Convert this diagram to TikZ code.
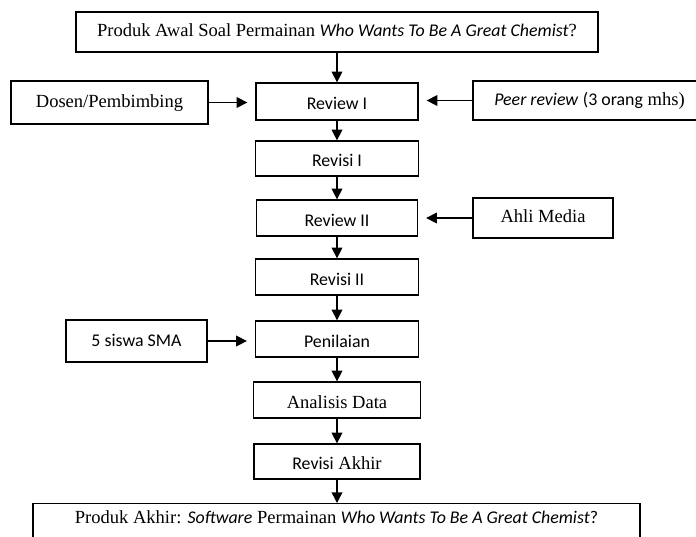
\documentclass[tikz,border=0pt]{standalone}
\usepackage{fontspec}
\setmainfont{Liberation Serif}
\newfontfamily\calibri{Carlito}
\usetikzlibrary{arrows.meta,positioning,shadows}

% Calibri pieces inside the Times labels
\newcommand{\cb}[1]{{\calibri\fontsize{13.4}{16}\selectfont #1}}
\newcommand{\cbi}[1]{{\calibri\itshape\fontsize{13.4}{16}\selectfont #1}}

\begin{document}
\begin{tikzpicture}[
  x=0.75pt, y=-0.75pt,
  font=\fontsize{13.9}{16}\selectfont,
  box/.style={draw, line width=1pt, rectangle, inner sep=0pt, align=center, fill=white,
    text height=9.5pt, text depth=2.5pt,
    drop shadow={shadow xshift=0.7pt, shadow yshift=-0.7pt, fill=black!55, opacity=0.7}},
  stepbox/.style={box, text height=14pt, text depth=1.5pt},
  arr/.style={-{Triangle[length=8pt,width=8pt]}, line width=1.1pt},
  side/.style={arr, shorten >=6pt}
]
\useasboundingbox (0,0) rectangle (696,536);

\node[box, minimum width=391.5pt, minimum height=30pt] (awal) at (337,32)
  {Produk Awal Soal Permainan \cbi{Who Wants To Be A Great Chemist}?};
\node[stepbox, minimum width=121.5pt, minimum height=27.75pt] (rev1) at (337,101.5) {\cb{Review I}};
\node[box, minimum width=147.75pt, minimum height=32.25pt] (dosen) at (109.5,102.5) {Dosen/Pembimbing};
\node[box, minimum width=174.75pt, minimum height=29.25pt] (peer) at (589.5,100.5)
  {\cbi{Peer review} \cb{(3 orang} mhs)};
\node[stepbox, minimum width=122.25pt, minimum height=26.25pt] (revisi1) at (337,158.5) {\cb{Revisi I}};
\node[stepbox, minimum width=120.75pt, minimum height=27pt] (rev2) at (337,218) {\cb{Review II}};
\node[box, minimum width=105pt, minimum height=30pt] (ahli) at (543,218) {Ahli Media};
\node[stepbox, minimum width=122.25pt, minimum height=27pt] (revisi2) at (337,277) {\cb{Revisi II}};
\node[stepbox, minimum width=122.25pt, minimum height=27pt] (nilai) at (337,339) {\cb{Penilaian}};
\node[box, minimum width=105.75pt, minimum height=31.5pt, text height=11pt] (siswa) at (136.5,341) {\cb{5 siswa SMA}};
\node[stepbox, minimum width=125.25pt, minimum height=27pt] (analisis) at (337,400) {Analisis Data};
\node[stepbox, minimum width=124.5pt, minimum height=26.25pt] (akhir) at (337,461.5) {\cb{Revisi} Akhir};
\node[box, anchor=north, minimum width=455.25pt, inner ysep=4.5pt, text height=10.5pt, text depth=15pt]
  (final) at (336.5,503)
  {Produk Akhir: \cbi{Software} Permainan \cbi{Who Wants To Be A Great Chemist}\cb{?}};

\draw[arr] (awal.south) -- (awal.south |- rev1.north);
\draw[side] (dosen.east) -- (dosen.east -| rev1.west);
\draw[side] (peer.west) -- (peer.west -| rev1.east);
\draw[arr] (rev1.south) -- (rev1.south |- revisi1.north);
\draw[arr] (revisi1.south) -- (revisi1.south |- rev2.north);
\draw[side] (ahli.west) -- (ahli.west -| rev2.east);
\draw[arr] (rev2.south) -- (rev2.south |- revisi2.north);
\draw[arr] (revisi2.south) -- (revisi2.south |- nilai.north);
\draw[side] (siswa.east) -- (siswa.east -| nilai.west);
\draw[arr] (nilai.south) -- (nilai.south |- analisis.north);
\draw[arr] (analisis.south) -- (analisis.south |- akhir.north);
\draw[arr] (akhir.south) -- (akhir.south |- final.north);
\end{tikzpicture}
\end{document}
